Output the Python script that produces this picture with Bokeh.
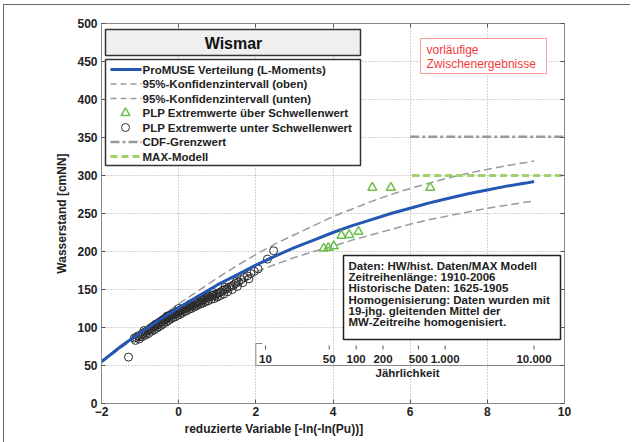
import math
from bokeh.plotting import figure
from bokeh.models import Range1d, LinearAxis, FixedTicker, Title
from bokeh.core.properties import value
from bokeh.embed import file_html
from bokeh.resources import INLINE

# ---------------- data ----------------
curve_x = [-2, -1.5, -1, -0.5, 0, 0.5, 1, 1.5, 2, 2.5, 3, 3.5, 4, 4.5, 5, 5.5,
           6, 6.5, 7, 7.5, 8, 8.5, 9, 9.21]
promuse_y = [55, 75, 93, 110, 126, 141, 156, 169, 182, 194, 205, 215, 225, 234,
             242, 250, 257, 264, 270, 276, 281, 286, 290, 292]
ci_upper_y = [56, 76, 95, 113, 131, 148, 165, 181, 196, 210, 222, 234, 246, 256,
              266, 275, 283, 290, 297, 303, 308, 313, 317, 319]
ci_lower_y = [54, 73, 91, 107, 121, 135, 148, 161, 173, 183, 192, 200, 207, 215,
              222, 229, 236, 242, 247, 252, 257, 261, 265, 266]

above_x = [3.76, 3.88, 4.02, 4.22, 4.42, 4.66, 5.02, 5.50, 6.52]
above_y = [204, 205, 207, 221, 222, 226, 284, 284, 284]

below_x = [-1.30,
           -1.15, -1.10, -1.05, -1.00, -0.96, -0.92, -0.88, -0.84, -0.80, -0.77,
           -0.74, -0.71, -0.68, -0.65, -0.62, -0.59, -0.56, -0.53, -0.50, -0.47,
           -0.44, -0.41, -0.38, -0.35, -0.32, -0.29, -0.26, -0.23, -0.20, -0.17,
           -0.14, -0.11, -0.08, -0.05, -0.02, 0.01, 0.04, 0.07, 0.10, 0.13,
           0.16, 0.19, 0.22, 0.25, 0.28, 0.31, 0.34, 0.37, 0.40, 0.43,
           0.46, 0.49, 0.52, 0.55, 0.58, 0.61, 0.64, 0.67, 0.70, 0.74,
           0.78, 0.82, 0.86, 0.90, 0.94, 0.98, 1.02, 1.06, 1.10, 1.15,
           1.20, 1.25, 1.30, 1.36, 1.42, 1.48, 1.55, 1.62, 1.70, 1.78,
           1.87, 1.96, 2.06, 2.30, 2.46,
           -1.12, -1.02, -0.94, -0.86, -0.78, -0.70, -0.63, -0.57, -0.51, -0.45,
           -0.39, -0.33, -0.27, -0.21, -0.15, -0.09, -0.03, 0.03, 0.09, 0.15,
           0.21, 0.27, 0.33, 0.39, 0.45, 0.51, 0.57, 0.63, 0.69, 0.76,
           0.84, 0.92, 1.00, 1.08, 1.17, 1.27, 1.39, 1.52, 1.66, 1.82,
           -0.90, -0.60, -0.30, 0.00, 0.30, 0.60, 0.90, 1.20, 1.50]
below_y = [61,
           86, 87, 89, 88, 91, 92, 94, 93, 96, 97,
           99, 98, 101, 102, 101, 104, 105, 104, 107, 108,
           107, 110, 111, 110, 113, 114, 113, 116, 117, 116,
           118, 119, 118, 121, 120, 122, 123, 122, 125, 124,
           126, 127, 126, 128, 129, 128, 131, 130, 132, 133,
           132, 134, 135, 134, 136, 137, 136, 138, 139, 140,
           141, 140, 142, 143, 142, 144, 145, 146, 147, 149,
           150, 151, 153, 154, 156, 158, 160, 163, 166, 168,
           171, 174, 177, 190, 201,
           83, 85, 88, 90, 92, 95, 97, 99, 101, 103,
           105, 107, 109, 111, 113, 114, 116, 117, 119, 121,
           122, 124, 125, 127, 128, 130, 131, 132, 134, 135,
           137, 138, 140, 142, 144, 147, 150, 154, 159, 164,
           96, 104, 115, 125, 131, 139, 146, 153, 161]

cdf_limit = 351
cdf_x = [6.0, 10.0]
max_model = 300
max_x = [6.05, 10.0]

return_periods = [10, 50, 100, 200, 500, 1000, 10000]
return_labels = ["10", "50", "100", "200", "500", "1.000", "10.000"]

x_ticks = [-2, 0, 2, 4, 6, 8, 10]
y_ticks = [0, 50, 100, 150, 200, 250, 300, 350, 400, 450, 500]

legend_labels = ["ProMUSE Verteilung (L-Moments)",
                 "95%-Konfidenzintervall (oben)",
                 "95%-Konfidenzintervall (unten)",
                 "PLP Extremwerte über Schwellenwert",
                 "PLP Extremwerte unter Schwellenwert",
                 "CDF-Grenzwert",
                 "MAX-Modell"]
info_lines = ["Daten: HW/hist. Daten/MAX Modell",
              "Zeitreihenlänge: 1910-2006",
              "Historische Daten: 1625-1905",
              "Homogenisierung: Daten wurden mit",
              "19-jhg. gleitenden Mittel der",
              "MW-Zeitreihe homogenisiert."]

# ---------------- layout helpers (pixel -> data) ----------------
FL, FR, FT, FB = 101, 564, 23, 403
XMIN, XMAX, YMIN, YMAX = -2, 10, 0, 500


def dx(px):
    return XMIN + (px - FL) * (XMAX - XMIN) / (FR - FL)


def dy(py):
    return YMIN + (FB - py) * (YMAX - YMIN) / (FB - FT)


FONT = value("Liberation Sans")
BLUE = "#2456b4"
GREY = "#9a9a9a"
GREEN = "#9fd06a"
TRI = "#6cbf4a"

p = figure(width=633, height=442, frame_width=FR - FL, frame_height=FB - FT,
           min_border_left=FL, min_border_right=633 - FR,
           min_border_top=FT, min_border_bottom=442 - FB,
           x_range=Range1d(XMIN, XMAX), y_range=Range1d(YMIN, YMAX),
           output_backend="svg", toolbar_location=None)
p.border_fill_color = None
p.background_fill_color = "white"
p.outline_line_color = "#8a8a8a"
p.styles = {"background": "linear-gradient(#666,#666) 3px 4px / 627px 1px no-repeat, "
                          "linear-gradient(#666,#666) 3px 4px / 1px 438px no-repeat, #ffffff"}

p.xaxis.ticker = FixedTicker(ticks=x_ticks)
p.yaxis.ticker = FixedTicker(ticks=y_ticks)
for ax in (p.xaxis[0], p.yaxis[0]):
    ax.axis_line_color = "#8a8a8a"
    ax.major_tick_line_color = "#555555"
    ax.major_tick_in = 4
    ax.major_tick_out = 0
    ax.minor_tick_line_color = None
    ax.major_label_text_font = "Liberation Sans"
    ax.major_label_text_font_style = "bold"
    ax.major_label_text_font_size = "12px"
    ax.major_label_text_color = "#222222"
p.xaxis.major_label_standoff = 3
p.yaxis.major_label_standoff = 4

p.yaxis.axis_label = "Wasserstand [cmNN]"
p.yaxis.axis_label_standoff = 5
p.yaxis.axis_label_text_font = "Liberation Sans"
p.yaxis.axis_label_text_font_style = "bold"
p.yaxis.axis_label_text_font_size = "12px"
p.yaxis.axis_label_text_color = "#222222"

xtitle = Title(text="reduzierte Variable [-ln(-ln(Pu))]", align="left", offset=83,
               text_font="Liberation Sans", text_font_style="bold",
               text_font_size="12px", text_color="#222222", standoff=2)
p.add_layout(xtitle, "below")

for loc, tk in (("right", y_ticks), ("above", x_ticks)):
    ax = LinearAxis(ticker=FixedTicker(ticks=tk))
    ax.axis_line_color = "#8a8a8a"
    ax.major_tick_line_color = "#555555"
    ax.major_tick_in = 4
    ax.major_tick_out = 0
    ax.minor_tick_line_color = None
    ax.major_label_text_color = None
    ax.major_label_text_font_size = "8px"
    p.add_layout(ax, loc)

p.grid.grid_line_color = "#a8a8a8"
p.grid.grid_line_dash = "1 2"
p.grid.grid_line_width = 1
p.xgrid.ticker = FixedTicker(ticks=x_ticks)
p.ygrid.ticker = FixedTicker(ticks=y_ticks)

# ---------------- data marks ----------------
p.line(curve_x, ci_upper_y, line_color=GREY, line_width=1.5, line_dash="8 4")
p.line(curve_x, ci_lower_y, line_color=GREY, line_width=1.5, line_dash="8 4")
p.line(cdf_x, [cdf_limit] * len(cdf_x), line_color=GREY, line_width=2.5, line_dash="9 3 3 3")
p.line(max_x, [max_model] * len(max_x), line_color=GREEN, line_width=3, line_dash="7 4")
p.scatter(below_x, below_y, marker="circle", size=8, fill_color=None,
          line_color="#2a2a2a", line_width=1)
p.line(curve_x, promuse_y, line_color=BLUE, line_width=3)
p.scatter(above_x, above_y, marker="triangle", size=9, fill_color=None,
          line_color=TRI, line_width=1.5)

# ---------------- inner return-period axis ----------------
rp_x = [-math.log(-math.log(1 - 1 / t)) for t in return_periods]
p.segment(x0=[2], y0=[dy(365)], x1=[10], y1=[dy(365)], line_color="#8a8a8a", line_width=1)
p.segment(x0=[2], y0=[dy(365)], x1=[2], y1=[dy(343)], line_color="#8a8a8a", line_width=1)
p.segment(x0=[2], y0=[dy(343)], x1=[dx(262)], y1=[dy(343)], line_color="#8a8a8a", line_width=1)
p.segment(x0=rp_x, y0=[dy(345)] * len(rp_x), x1=rp_x, y1=[dy(349)] * len(rp_x),
          line_color="#555555", line_width=1)
p.text(x=rp_x, y=[dy(358)] * len(rp_x), text=return_labels, text_align="center",
       text_baseline="middle", text_font=FONT, text_font_style="bold",
       text_font_size="11.5px", text_color="#222222")
p.text(x=[dx(407)], y=[dy(372)], text=["Jährlichkeit"], text_align="center",
       text_baseline="middle", text_font=FONT, text_font_style="bold",
       text_font_size="11.5px", text_color="#222222")

# ---------------- title box ----------------
p.quad(left=[dx(105)], right=[dx(360)], top=[dy(29)], bottom=[dy(55)],
       fill_color="#efefef", line_color="#333333", line_width=1.5)
p.text(x=[dx(233)], y=[dy(42.5)], text=["Wismar"], text_align="center",
       text_baseline="middle", text_font=FONT, text_font_style="bold",
       text_font_size="16px", text_color="#111111")

# ---------------- legend box ----------------
p.quad(left=[dx(105)], right=[dx(360)], top=[dy(59)], bottom=[dy(165)],
       fill_color="white", line_color="#333333", line_width=1.5)
rows = [69 + 14.5 * i for i in range(len(legend_labels))]
gx0, gx1, gm = dx(110), dx(141), dx(125)
p.line([gx0, gx1], [dy(rows[0])] * 2, line_color=BLUE, line_width=3)
p.line([gx0, gx1], [dy(rows[1])] * 2, line_color=GREY, line_width=1.5, line_dash="6 4")
p.line([gx0, gx1], [dy(rows[2])] * 2, line_color=GREY, line_width=1.5, line_dash="6 4")
p.scatter([gm], [dy(rows[3])], marker="triangle", size=9, fill_color=None,
          line_color=TRI, line_width=1.5)
p.scatter([gm], [dy(rows[4])], marker="circle", size=8, fill_color=None,
          line_color="#333333", line_width=1)
p.line([gx0, gx1], [dy(rows[5])] * 2, line_color=GREY, line_width=2.5, line_dash="9 3 3 3")
p.line([gx0, gx1], [dy(rows[6])] * 2, line_color=GREEN, line_width=3, line_dash="7 4")
p.text(x=[dx(142)] * len(rows), y=[dy(r) for r in rows], text=legend_labels,
       text_baseline="middle", text_font=FONT, text_font_style="bold",
       text_font_size="11.5px", text_color="#222222")

# ---------------- red note ----------------
p.quad(left=[dx(420)], right=[dx(546)], top=[dy(38)], bottom=[dy(73)],
       fill_color="white", line_color="#ff9a9a", line_width=1)
p.text(x=[dx(426), dx(426)], y=[dy(49), dy(63)],
       text=["vorläufige", "Zwischenergebnisse"], text_baseline="middle",
       text_font=FONT, text_font_size="12px", text_color="#f03a3a")

# ---------------- info box ----------------
p.quad(left=[dx(343)], right=[dx(560)], top=[dy(255)], bottom=[dy(339)],
       fill_color="white", line_color="#222222", line_width=1.5)
p.text(x=[dx(348)] * len(info_lines), y=[dy(265.5 + 11.2 * i) for i in range(len(info_lines))],
       text=info_lines, text_baseline="middle", text_font=FONT, text_font_style="bold",
       text_font_size="11.5px", text_color="#222222")

open("out.html", "w").write(file_html(p, INLINE))
